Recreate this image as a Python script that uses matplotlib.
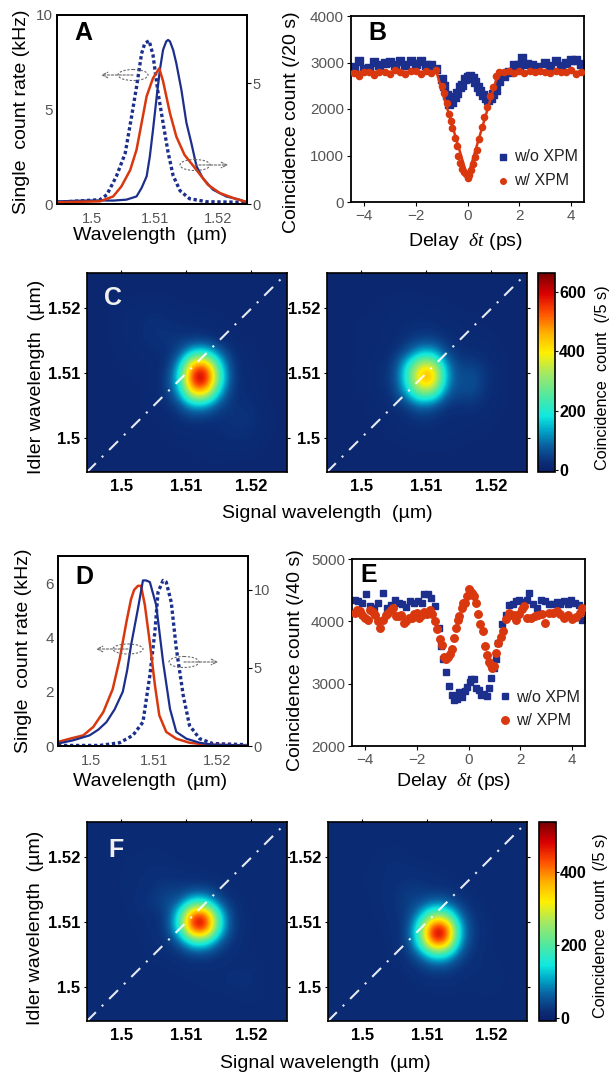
import numpy as np
import matplotlib
matplotlib.use('Agg')
import matplotlib.pyplot as plt
from matplotlib.colors import LinearSegmentedColormap
from matplotlib.patches import Ellipse

plt.rcParams['font.family'] = ['Liberation Sans', 'DejaVu Sans']
plt.rcParams['mathtext.fontset'] = 'custom'
plt.rcParams['mathtext.rm'] = 'Liberation Sans'
plt.rcParams['mathtext.it'] = 'Liberation Serif:italic'

W, H = 611, 1077

########## Panel A ##########
a_solid_x = [1.4947,1.4987,1.5013,1.5034,1.5055,1.5071,1.5079,1.5087,1.5092,1.5097,1.5103,1.5108,1.5113,1.5118,1.5121,1.5124,1.5129,1.5134,1.5142,1.515,1.5158,1.5166,1.5176,1.5192,1.5213,1.5234,1.5245]
a_solid_y = [.14,.18,.19,.18,.23,.4,.85,1.46,2.5,3.9,5.7,7.1,8.15,8.6,8.68,8.6,8.15,7.45,6.05,4.3,3.2,2.0,1.37,.76,.4,.23,.1]
a_dot_x = [1.4945,1.5013,1.5024,1.5039,1.5053,1.5063,1.5071,1.5079,1.5084,1.5091,1.5097,1.5105,1.5113,1.5121,1.5129,1.514,1.5155,1.5182,1.5245]
a_dot_y = [.09,.23,.49,1.46,2.68,4.6,6.2,7.96,8.5,8.64,7.9,5.9,4.3,2.73,1.5,.7,.28,.12,.09]
a_red_x = [1.4947,1.5013,1.5034,1.5047,1.5061,1.5071,1.5079,1.5087,1.5097,1.5107,1.5113,1.5124,1.5134,1.5147,1.5166,1.5184,1.5203,1.5224,1.5242]
a_red_y = [.09,.14,.4,.93,1.8,2.87,4.28,5.7,6.65,7.18,6.5,4.8,3.57,2.6,1.8,1.02,.58,.32,.14]

########## Panel D ##########
d_red_x = [1.4947,1.4966,1.4987,1.5003,1.5019,1.5034,1.5045,1.5056,1.5063,1.5068,1.5074,1.5079,1.5085,1.5093,1.5101,1.5108,1.5119,1.5135,1.5156,1.5183,1.5245]
d_red_y = [.15,.27,.39,.7,1.25,2.1,3.2,4.6,5.4,5.75,5.9,5.9,5.2,3.8,2.25,1.13,.52,.27,.12,.05,.02]
d_solid_x = [1.4947,1.4971,1.4997,1.5011,1.5024,1.5037,1.505,1.5057,1.5063,1.5074,1.5082,1.5087,1.5093,1.5103,1.5114,1.5125,1.5135,1.5151,1.5172,1.5193,1.5246]
d_solid_y = [.09,.21,.39,.6,.88,1.35,2.0,2.8,3.7,5.05,6.1,6.1,6.04,5.2,3.1,1.37,.52,.27,.12,.05,.02]
d_dot_x = [1.4947,1.5013,1.5045,1.5066,1.5082,1.5093,1.5101,1.5106,1.5114,1.5119,1.5127,1.5135,1.5146,1.5156,1.5172,1.5193,1.5246]
d_dot_y = [.02,.02,.12,.39,.88,2.6,4.2,5.67,6.1,6.04,5.3,3.6,1.87,.76,.27,.09,.05]

########## Panel B ##########
b_blue_x = [-4.4,-4.2,-4,-3.8,-3.6,-3.4,-3.2,-3,-2.8,-2.6,-2.4,-2.2,-2,-1.8,-1.6,-1.4,-1.2,-1.0,-.9,-.8,-.7,-.6,-.5,-.4,-.3,-.2,-.1,0,.1,.2,.3,.4,.5,.6,.7,.8,.9,1.0,1.1,1.2,1.4,1.6,1.8,2,2.1,2.3,2.5,2.7,3.0,3.2,3.4,3.6,3.8,4,4.2,4.4]
b_blue_y = [2900,3030,2850,2880,3020,2940,3000,3020,2950,3030,2940,3040,2960,3030,2950,2950,2860,2650,2500,2300,2100,2150,2250,2350,2480,2520,2650,2680,2700,2660,2580,2480,2380,2300,2240,2200,2240,2320,2400,2600,2700,2800,2950,2950,3090,2960,2950,2900,3000,2920,3030,2920,3000,3050,3050,2960]
b_red_x = [-4.4,-4.2,-4.0,-3.8,-3.6,-3.4,-3.2,-3.0,-2.8,-2.6,-2.4,-2.2,-2.0,-1.8,-1.6,-1.4,-1.2,-1.0,-.9,-.8,-.73,-.65,-.6,-.5,-.42,-.35,-.28,-.2,-.12,-.05,0,.05,.12,.2,.28,.36,.45,.55,.65,.77,.88,1.0,1.1,1.2,1.4,1.6,1.8,2.0,2.2,2.4,2.6,2.8,3.0,3.2,3.4,3.6,3.8,4.0,4.2,4.4]
b_red_y = [2780,2720,2790,2800,2730,2800,2790,2760,2830,2800,2760,2820,2810,2760,2820,2780,2830,2500,2350,2120,1900,1750,1600,1380,1200,1000,830,700,640,600,510,590,680,820,960,1120,1360,1620,1830,2050,2280,2480,2700,2790,2800,2820,2780,2810,2770,2820,2790,2810,2800,2770,2820,2800,2790,2840,2760,2800]
b_fit_x = [-4.5,-1.2,0,1.2,4.5]
b_fit_y = [2800,2800,530,2800,2800]

########## Panel E ##########
e_blue_x = [-4.4,-4.25,-4.1,-3.95,-3.8,-3.65,-3.5,-3.3,-3.15,-3,-2.85,-2.7,-2.55,-2.4,-2.25,-2.1,-1.95,-1.8,-1.7,-1.55,-1.45,-1.3,-1.15,-1.05,-.98,-.85,-.75,-.65,-.55,-.45,-.35,-.25,-.15,-.05,.05,.1,.2,.3,.4,.5,.6,.7,.8,.88,.98,1.05,1.15,1.3,1.45,1.55,1.7,1.85,1.95,2.1,2.25,2.35,2.5,2.65,2.8,2.95,3.1,3.25,3.4,3.55,3.7,3.85,3.95,4.1,4.25,4.4]
e_blue_y = [4350,4330,4300,4440,4250,4220,4290,4450,4220,4270,4340,4300,4280,4230,4320,4290,4330,4300,4440,4440,4370,4250,3900,3600,3400,3180,2960,2820,2740,2760,2860,2780,2890,2950,3020,3070,3080,2930,2900,2820,2830,2810,2930,3090,3250,3390,3650,3960,4100,4260,4280,4320,4340,4310,4340,4460,4280,4220,4340,4330,4280,4280,4310,4280,4330,4280,4350,4300,4260,4020]
e_red_x = [-4.4,-4.3,-4.2,-4.1,-4,-3.9,-3.8,-3.7,-3.6,-3.5,-3.4,-3.3,-3.2,-3.1,-3,-2.9,-2.8,-2.7,-2.6,-2.5,-2.4,-2.3,-2.2,-2.1,-2,-1.9,-1.8,-1.7,-1.6,-1.5,-1.4,-1.3,-1.2,-1.1,-1.02,-.95,-.87,-.8,-.72,-.65,-.57,-.5,-.42,-.35,-.27,-.2,-.12,-.05,0,.05,.1,.15,.2,.3,.38,.45,.55,.62,.7,.78,.85,.92,1.0,1.08,1.15,1.25,1.35,1.45,1.55,1.65,1.75,1.85,1.95,2.05,2.15,2.25,2.4,2.55,2.7,2.85,2.95,3.1,3.25,3.4,3.55,3.7,3.85,4,4.15,4.3,4.4]
e_red_y = [4130,4180,4170,4100,4060,4020,4180,4150,4100,4000,3900,4020,4100,4140,4180,4220,4080,4090,4100,3980,4010,4060,4050,4110,4130,4060,4100,4150,4120,4180,4120,4000,3880,3720,3620,3420,3390,3420,3480,3560,3740,3900,4020,4080,4220,4300,4300,4400,4520,4480,4440,4460,4400,4300,4110,3950,3850,3600,3460,3340,3300,3250,3290,3500,3660,3750,3850,4040,4130,4100,4100,4020,4110,4200,4240,4060,4060,4090,4100,4120,3980,4130,4130,4170,4120,4060,4100,4030,4070,4130,4220]

########## Coincidence maps ##########
# rows run from idler 1.525 down to 1.495, columns from signal 1.495 to 1.525, 0.002 apart
map_c1 = [
 [12,13,12,11,13,12,13,12,12,13,12,11,12,13,12,12],
 [12,13,14,13,12,14,13,13,12,12,13,12,12,12,13,12],
 [12,13,14,15,16,16,15,14,13,13,13,12,13,12,12,12],
 [12,13,15,17,20,24,20,17,16,15,14,13,13,13,12,12],
 [12,14,15,18,24,32,30,24,22,20,16,14,13,13,12,12],
 [13,13,15,17,22,30,32,38,42,38,22,16,14,13,13,12],
 [13,13,14,15,17,20,25,60,200,220,100,30,17,14,13,12],
 [12,13,14,14,15,17,28,150,530,570,220,38,18,15,13,13],
 [12,13,13,14,14,17,38,190,620,655,260,40,20,16,13,12],
 [12,12,13,13,14,16,36,130,440,440,150,32,24,17,13,12],
 [12,13,12,13,14,15,23,50,130,120,55,30,30,20,14,12],
 [12,12,13,13,13,14,16,27,36,32,28,32,36,24,15,13],
 [12,13,12,13,13,13,14,17,18,18,22,28,30,20,14,12],
 [12,12,13,12,13,13,13,14,15,16,18,20,20,16,13,12],
 [12,12,12,13,12,13,13,13,14,14,15,14,14,14,13,12],
 [11,12,12,12,13,12,13,12,13,13,13,12,13,12,12,12]]
map_c2 = [
 [12,12,13,12,12,13,12,13,12,12,13,12,12,12,13,12],
 [12,13,13,12,13,13,14,13,13,13,12,12,13,12,12,12],
 [12,13,13,13,14,15,16,15,15,14,13,13,13,12,12,12],
 [12,13,14,14,15,17,19,20,18,16,15,14,13,13,12,12],
 [12,13,14,15,16,19,24,28,27,20,17,15,14,13,13,12],
 [12,13,14,15,16,20,32,50,52,30,20,18,16,14,13,12],
 [12,13,14,15,18,30,70,160,170,60,30,26,22,15,13,12],
 [12,13,14,16,24,40,190,400,420,130,46,52,32,17,13,12],
 [12,13,14,16,27,45,200,470,490,140,56,72,36,18,13,12],
 [12,13,14,15,22,35,140,300,290,90,50,60,30,17,13,12],
 [12,12,13,14,17,26,40,90,70,30,28,32,22,15,13,12],
 [12,12,13,14,15,18,24,32,30,22,20,18,16,14,13,12],
 [12,12,13,13,14,15,18,20,20,18,16,15,14,13,12,12],
 [12,12,12,13,13,14,14,15,15,15,14,14,13,13,12,12],
 [11,12,12,12,13,13,13,13,13,13,13,13,12,12,12,12],
 [11,12,12,12,12,12,13,12,12,13,12,12,12,12,12,12]]
map_f1 = [
 [13,14,13,14,13,14,14,13,14,14,13,14,13,14,13,13],
 [13,14,15,14,15,15,15,14,15,14,15,14,14,14,13,14],
 [14,14,15,16,16,17,16,15,15,15,15,15,14,14,14,13],
 [13,14,15,17,18,18,17,16,16,16,15,15,15,14,14,14],
 [14,15,16,17,18,20,22,20,18,17,16,15,15,14,14,13],
 [14,14,16,17,19,24,34,30,38,36,22,16,15,15,14,14],
 [14,15,15,17,20,30,46,64,170,170,60,22,16,15,14,14],
 [14,14,15,16,18,20,30,170,480,480,170,30,17,15,14,14],
 [14,14,15,16,17,19,30,170,480,485,170,30,17,15,14,14],
 [14,14,15,15,16,18,22,60,170,170,60,23,17,15,15,14],
 [14,14,15,15,16,17,18,22,32,32,23,18,16,16,15,14],
 [14,14,14,15,15,16,16,17,18,18,17,18,18,18,15,14],
 [13,14,14,15,15,15,16,16,16,17,18,20,20,18,15,14],
 [14,14,14,14,15,15,15,15,16,16,16,17,18,17,16,14],
 [13,14,14,14,14,15,15,15,15,15,15,15,16,16,15,14],
 [13,13,14,14,14,14,14,14,15,14,14,14,14,14,14,13]]
map_f2 = [
 [13,14,13,14,14,13,14,13,14,14,13,14,13,14,13,13],
 [13,14,15,15,14,15,14,15,14,14,15,14,14,13,14,13],
 [14,14,15,16,17,18,16,15,15,15,15,14,14,14,13,13],
 [13,15,15,16,18,19,18,17,16,16,15,15,14,14,14,13],
 [14,15,16,17,18,20,22,20,18,17,16,15,15,14,14,14],
 [14,14,16,16,18,22,30,30,24,22,18,16,15,15,14,14],
 [14,15,15,16,18,22,36,44,70,65,30,19,16,15,14,14],
 [14,14,15,16,17,20,30,110,260,240,80,25,17,15,14,14],
 [14,14,15,15,16,19,34,210,520,500,130,30,18,15,14,14],
 [14,14,15,15,16,18,32,190,470,440,110,28,18,15,14,14],
 [14,14,15,15,15,17,24,70,160,150,50,22,17,16,15,14],
 [14,14,14,15,15,16,18,26,40,38,24,19,18,17,15,14],
 [13,14,14,14,15,15,16,18,20,20,18,17,18,18,15,14],
 [14,14,14,14,15,15,15,16,16,17,16,16,17,16,15,14],
 [13,14,14,14,14,15,15,15,15,15,15,15,15,15,14,14],
 [13,13,14,14,14,14,14,14,15,14,14,14,14,14,14,13]]

NAVY = '#1c2f8c'
RED = '#d9380f'
GREY = '#555555'

jetlike = LinearSegmentedColormap.from_list('jetlike', [
    (0.0, '#0a1f68'), (0.05, '#0b2f78'), (0.13, '#0a5fa0'), (0.21, '#00a8c8'),
    (0.28, '#10e8e0'), (0.38, '#50e8a0'), (0.5, '#a8e860'), (0.6, '#fff000'),
    (0.7, '#ffb000'), (0.8, '#ff5000'), (0.9, '#d80000'), (1.0, '#780000')])

fig = plt.figure(figsize=(W/100, H/100), dpi=100)


# axes from a pixel box measured top-down
def box(left, top, right, bottom):
    return fig.add_axes([left/W, 1-bottom/H, (right-left)/W, (bottom-top)/H])


def label(x, y, s, size=14, rotation=0, **kw):
    fig.text(x/W, 1-y/H, s, fontsize=size, rotation=rotation, ha='center', va='center', **kw)


# dashed ellipse with an arrow leaving it, in pixels
def loop_arrow(cx, cy, w, h, tip):
    overlay.add_patch(Ellipse((cx, cy), w, h, fill=False, ec='#666666', lw=0.8, ls=(0, (2, 1.5))))
    overlay.annotate('', xy=(tip, cy), xytext=(cx, cy),
                     arrowprops=dict(arrowstyle='->', color='#666666', lw=0.8, ls=(0, (2, 1.5)), shrinkA=0, shrinkB=0))


def spectrum(ax, xlim, ylim, yticks, right_max, right_ticks):
    ax.set_xlim(xlim)
    ax.set_ylim(ylim)
    ax.set_xticks([1.5, 1.51, 1.52])
    ax.set_xticklabels(['1.5', '1.51', '1.52'])
    ax.set_yticks(yticks)
    ax.tick_params(axis='x', length=0, pad=6, labelsize=10.5, labelcolor=GREY)
    ax.tick_params(axis='y', length=0, pad=3, labelsize=11, labelcolor=GREY)
    for s in ax.spines.values():
        s.set_linewidth(1.3)
    r = ax.twinx()
    r.set_ylim(0, right_max)
    r.set_yticks(right_ticks)
    r.tick_params(axis='y', length=3, width=0.8, pad=1, labelsize=10.5, labelcolor=GREY)
    for s in r.spines.values():
        s.set_linewidth(1.3)


def delay(ax, ylim, yticks):
    ax.set_xlim(-4.5, 4.5)
    ax.set_ylim(ylim)
    ax.set_xticks([-4, -2, 0, 2, 4])
    ax.set_xticklabels(['\u22124', '\u22122', '0', '2', '4'])
    ax.set_yticks(yticks)
    ax.tick_params(length=3, width=0.8, pad=2, labelsize=11, labelcolor=GREY)
    for s in ax.spines.values():
        s.set_linewidth(1.3)


def heat(ax, data, vmax):
    im = ax.imshow(data, cmap=jetlike, vmin=-7, vmax=vmax, extent=(1.494, 1.526, 1.494, 1.526),
                   interpolation='bicubic', aspect='auto')
    ax.set_xlim(1.4947, 1.5255)
    ax.set_ylim(1.4948, 1.5254)
    ax.plot([1.4947, 1.5255], [1.4948, 1.5254], color='white', lw=1.5, ls=(0, (6, 4, 1, 4)), alpha=0.9)
    ax.set_xticks([1.5, 1.51, 1.52])
    ax.set_xticklabels(['1.5', '1.51', '1.52'])
    ax.set_yticks([1.5, 1.51, 1.52])
    ax.set_yticklabels(['1.5', '1.51', '1.52'])
    ax.tick_params(top=True, right=True, bottom=False, length=2, width=0.8, pad=3, labelsize=12)
    for t in ax.get_xticklabels() + ax.get_yticklabels():
        t.set_fontweight('bold')
    for s in ax.spines.values():
        s.set_linewidth(1.2)
    return im


def colorbar(im, cax, ticks):
    cb = fig.colorbar(im, cax=cax, ticks=ticks)
    cb.ax.tick_params(length=2, width=0.8, pad=1, labelsize=11.5)
    for t in cb.ax.get_yticklabels():
        t.set_fontweight('bold')
    cb.outline.set_linewidth(1.2)


# overlay in pixel coordinates for the hand drawn loops
overlay = fig.add_axes([0, 0, 1, 1], zorder=10)
overlay.set_xlim(0, W)
overlay.set_ylim(H, 0)
overlay.axis('off')

########## A ##########
ax = box(57, 15, 247, 204)
ax.plot(a_dot_x, a_dot_y, color=NAVY, lw=2.4, ls=(0, (1, 0.8)))
ax.plot(a_solid_x, a_solid_y, color=NAVY, lw=1.6)
ax.plot(a_red_x, a_red_y, color=RED, lw=1.8)
spectrum(ax, (1.4945, 1.5246), (0, 10), [0, 5, 10], 7.82, [0, 5])
loop_arrow(133, 75, 30, 11, 101)
loop_arrow(195, 165, 30, 11, 228)

########## B ##########
ax = box(351, 16, 584, 202)
ax.scatter(b_blue_x, b_blue_y, s=30, marker='s', color=NAVY, label='w/o XPM')
ax.scatter(b_red_x, b_red_y, s=20, color=RED, label='w/ XPM', zorder=3)
ax.plot(b_fit_x, b_fit_y, color=RED, lw=1.8, zorder=4)
delay(ax, (0, 4000), [0, 1000, 2000, 3000, 4000])
ax.legend(loc='lower left', bbox_to_anchor=(0.595, 0.04), frameon=False, fontsize=11.5, handletextpad=0.2,
          handlelength=0.9, labelspacing=0.55, markerscale=0.9, labelcolor='#222222', borderaxespad=0)

########## C ##########
ax = box(87, 273, 287, 472)
im = heat(ax, map_c1, 665)
ax = box(327, 273, 527, 472)
im = heat(ax, map_c2, 665)
colorbar(im, box(538, 273, 555, 472), [0, 200, 400, 600])

########## D ##########
ax = box(58, 556, 248, 746)
ax.plot(d_dot_x, d_dot_y, color=NAVY, lw=2.4, ls=(0, (1, 0.8)))
ax.plot(d_red_x, d_red_y, color=RED, lw=1.8)
ax.plot(d_solid_x, d_solid_y, color=NAVY, lw=1.6)
spectrum(ax, (1.4947, 1.5249), (0, 7), [0, 2, 4, 6], 12.16, [0, 5, 10])
loop_arrow(128, 649, 30, 10, 96)
loop_arrow(184, 662, 30, 11, 218)

########## E ##########
ax = box(352, 559, 585, 746)
e_b = ax.errorbar(e_blue_x, e_blue_y, yerr=45, fmt='s', ms=3.8, color=NAVY, elinewidth=0.7)
e_r = ax.errorbar(e_red_x, e_red_y, yerr=45, fmt='o', ms=5.4, color=RED, ecolor='#e58a70', elinewidth=0.7, zorder=3)
delay(ax, (2000, 5000), [2000, 3000, 4000, 5000])
ax.legend([e_b[0], e_r[0]], ['w/o XPM', 'w/ XPM'], loc='lower left', bbox_to_anchor=(0.6, 0.06), frameon=False,
          fontsize=11.5, handletextpad=0.2, handlelength=0.9, labelspacing=0.55, labelcolor='#222222', borderaxespad=0)

########## F ##########
ax = box(87, 822, 287, 1021)
im = heat(ax, map_f1, 536)
ax = box(328, 822, 527, 1021)
im = heat(ax, map_f2, 536)
colorbar(im, box(539, 822, 556, 1021), [0, 200, 400])

########## Text ##########
label(150, 236, 'Wavelength  (\u00b5m)')
label(150, 781, 'Wavelength  (\u00b5m)')
label(22, 112, 'Single  count rate (kHz)', rotation=90)
label(24, 651, 'Single  count rate (kHz)', rotation=90)
label(291, 122, 'Coincidence count (/20 s)', rotation=90)
label(295, 660, 'Coincidence count (/40 s)', rotation=90)
label(465, 241, r'Delay  $\delta t$ (ps)')
label(453, 782, r'Delay  $\delta t$ (ps)')
label(37, 377, 'Idler wavelength  (\u00b5m)', rotation=90)
label(36, 928, 'Idler wavelength  (\u00b5m)', rotation=90)
label(327, 513, 'Signal wavelength  (\u00b5m)')
label(325, 1063, 'Signal wavelength  (\u00b5m)')
label(602, 378, 'Coincidence  count  (/5 s)', size=11.7, rotation=90)
label(600, 926, 'Coincidence  count  (/5 s)', size=11.7, rotation=90)

label(83, 33, 'A', size=18, fontweight='bold')
label(377, 33, 'B', size=18, fontweight='bold')
label(113, 298, 'C', size=18, fontweight='bold', color='#f0f0f0')
label(84, 577, 'D', size=18, fontweight='bold')
label(369, 575, 'E', size=18, fontweight='bold')
label(116, 850, 'F', size=18, fontweight='bold', color='#f0f0f0')

fig.savefig('out.png', dpi=100)
